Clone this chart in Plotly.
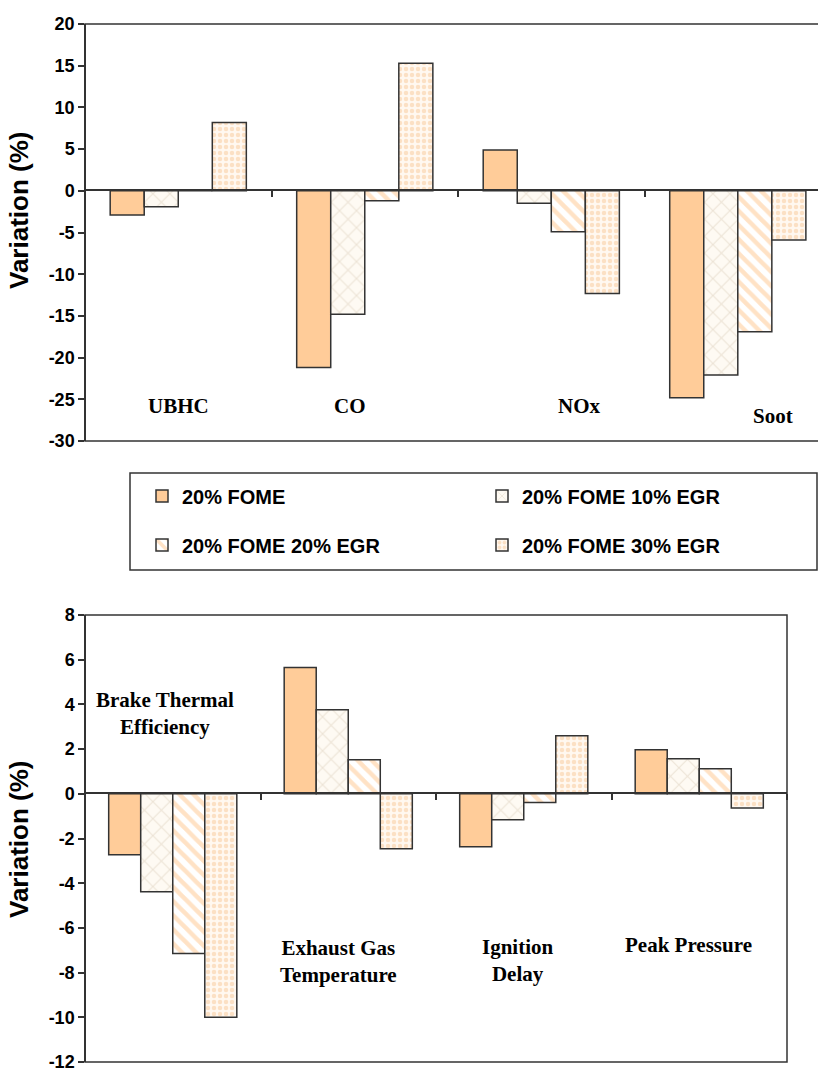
import plotly.graph_objects as go

# ---------------- data ----------------
series = ["20% FOME", "20% FOME 10% EGR", "20% FOME 20% EGR", "20% FOME 30% EGR"]

cats_top = ["UBHC", "CO", "NOx", "Soot"]
top_fome = [-2.9, -21.2, 4.9, -24.8]
top_egr10 = [-1.9, -14.8, -1.5, -22.1]
top_egr20 = [0.0, -1.2, -4.9, -16.9]
top_egr30 = [8.2, 15.3, -12.3, -5.9]

cats_bot = ["Brake Thermal Efficiency", "Exhaust Gas Temperature", "Ignition Delay", "Peak Pressure"]
bot_fome = [-2.73, 5.65, -2.37, 1.97]
bot_egr10 = [-4.38, 3.76, -1.16, 1.57]
bot_egr20 = [-7.15, 1.52, -0.39, 1.12]
bot_egr30 = [-10.0, -2.46, 2.6, -0.63]

top_ticks = [-30, -25, -20, -15, -10, -5, 0, 5, 10, 15, 20]
top_ticktext = ["-30", "-25", "-20", "-15", "-10", "-5", "0", "5", "10", "15", "20"]
bot_ticks = [-12, -10, -8, -6, -4, -2, 0, 2, 4, 6, 8]
bot_ticktext = ["-12", "-10", "-8", "-6", "-4", "-2", "0", "2", "4", "6", "8"]

top_labels = ["UBHC", "CO", "NOx", "Soot"]
bot_labels = ["Brake Thermal<br>Efficiency", "Exhaust Gas<br>Temperature", "Ignition<br>Delay", "Peak Pressure"]

# ---------------- styles ----------------
EDGE = "#333333"
markers = [
    dict(color="#FFCC99", line=dict(color=EDGE, width=1.5)),
    dict(color="#FEFAF3", line=dict(color=EDGE, width=1.5),
         pattern=dict(shape="x", fgcolor="#DCCDB8", bgcolor="#FEFAF3", size=12, solidity=0.18)),
    dict(color="#FFFFFF", line=dict(color=EDGE, width=1.5),
         pattern=dict(shape="\\", fgcolor="#FFC58C", bgcolor="#FFFFFF", size=10, solidity=0.45)),
    dict(color="#FFF6EC", line=dict(color=EDGE, width=1.5),
         pattern=dict(shape=".", fgcolor="#F8C898", bgcolor="#FFF8F0", size=6, solidity=0.45)),
]

top_data = [top_fome, top_egr10, top_egr20, top_egr30]
bot_data = [bot_fome, bot_egr10, bot_egr20, bot_egr30]
legend_ids = ["legend", "legend2", "legend3", "legend4"]

fig = go.Figure()
for i, name in enumerate(series):
    fig.add_trace(go.Bar(x=cats_top, y=top_data[i], name=name, marker=markers[i],
                         xaxis="x", yaxis="y", legend=legend_ids[i], showlegend=True))
for i, name in enumerate(series):
    fig.add_trace(go.Bar(x=cats_bot, y=bot_data[i], name=name, marker=markers[i],
                         xaxis="x2", yaxis="y2", showlegend=False))

W, H = 818, 1068
ML, MR, MT, MB = 85, 0, 24, 6
PW, PH = W - ML - MR, H - MT - MB   # 733 x 1038


def px_x(p):  # screen x -> paper
    return (p - ML) / PW


def px_y(p):  # screen y -> paper
    return (H - MB - p) / PH


tickfont = dict(family="Arial, Liberation Sans, sans-serif", size=18, color="#000", weight="bold")

common_x = dict(type="category", showline=True, linecolor=EDGE, linewidth=1.5, ticks="outside",
                tickson="boundaries", ticklen=6, tickcolor=EDGE, tickwidth=1.5,
                showticklabels=False, showgrid=False, zeroline=False, anchor="free", automargin=False)
common_y = dict(showline=True, linecolor=EDGE, linewidth=1.5, ticks="outside", ticklen=6,
                tickcolor=EDGE, tickwidth=1.5, showgrid=False, zeroline=False, tickfont=tickfont,
                anchor="free", position=0, tickmode="array", ticklabeloverflow="allow", automargin=False)

top_dom = [px_y(441), px_y(24)]
bot_dom = [px_y(1062), px_y(615)]

legend_font = dict(family="Arial, Liberation Sans, sans-serif", size=20, color="#000", weight="bold")
legend_pos = [(142, 496), (482, 496), (142, 545), (482, 545)]
legends = {}
for lid, (lx, ly) in zip(legend_ids, legend_pos):
    legends[lid] = dict(orientation="v", x=px_x(lx), xanchor="left", y=px_y(ly), yanchor="middle",
                        bgcolor="rgba(0,0,0,0)", borderwidth=0, font=legend_font)

fig.update_layout(
    width=W, height=H,
    margin=dict(l=ML, r=MR, t=MT, b=MB, autoexpand=False),
    paper_bgcolor="white", plot_bgcolor="white",
    barmode="group", bargap=0.27, bargroupgap=0,
    xaxis=dict(domain=[0, 1], range=[-0.5, 3.43], position=px_y(190), **common_x),
    yaxis=dict(domain=top_dom, range=[-30, 20], tickvals=top_ticks, ticktext=top_ticktext, **common_y),
    xaxis2=dict(domain=[0, px_x(787)], range=[-0.5, 3.5], position=px_y(793), **common_x),
    yaxis2=dict(domain=bot_dom, range=[-12, 8], tickvals=bot_ticks, ticktext=bot_ticktext, **common_y),
    font=dict(family="Arial, Liberation Sans, sans-serif", color="#000"),
    **legends,
)

# frames
fig.add_shape(type="rect", xref="x domain", yref="y domain", x0=0, x1=1.02, y0=0, y1=1,
              line=dict(color=EDGE, width=1.5), layer="above")
fig.add_shape(type="rect", xref="x2 domain", yref="y2 domain", x0=0, x1=1, y0=0, y1=1,
              line=dict(color=EDGE, width=1.5), layer="above")
# legend box
fig.add_shape(type="rect", xref="paper", yref="paper", x0=px_x(130), x1=px_x(817),
              y0=px_y(570), y1=px_y(473), line=dict(color=EDGE, width=1.5))

serif = dict(family="Times New Roman, Liberation Serif, serif", size=21, color="#000", weight="bold")
top_pos = [(0.0, -25.8), (0.92, -25.8), (2.15, -25.8), (3.19, -27.0)]
for lab, (x, y) in zip(top_labels, top_pos):
    fig.add_annotation(x=x, y=y, xref="x", yref="y", text=lab, showarrow=False, font=serif)
bot_pos = [(-0.044, 3.58), (0.947, -7.52), (1.967, -7.45), (2.94, -6.76)]
for lab, (x, y) in zip(bot_labels, bot_pos):
    fig.add_annotation(x=x, y=y, xref="x2", yref="y2", text=lab, showarrow=False, font=serif)

ytitle_font = dict(family="Arial, Liberation Sans, sans-serif", size=26, color="#000", weight="bold")
for yc in [211, 840]:
    fig.add_annotation(x=px_x(19), y=px_y(yc), xref="paper", yref="paper", text="Variation (%)",
                       textangle=-90, showarrow=False, font=ytitle_font,
                       xanchor="center", yanchor="middle")

fig.write_html(
    "out.html",
    config={"displayModeBar": False},
    post_script="document.body.style.margin='0';document.body.style.overflow='hidden';",
)
